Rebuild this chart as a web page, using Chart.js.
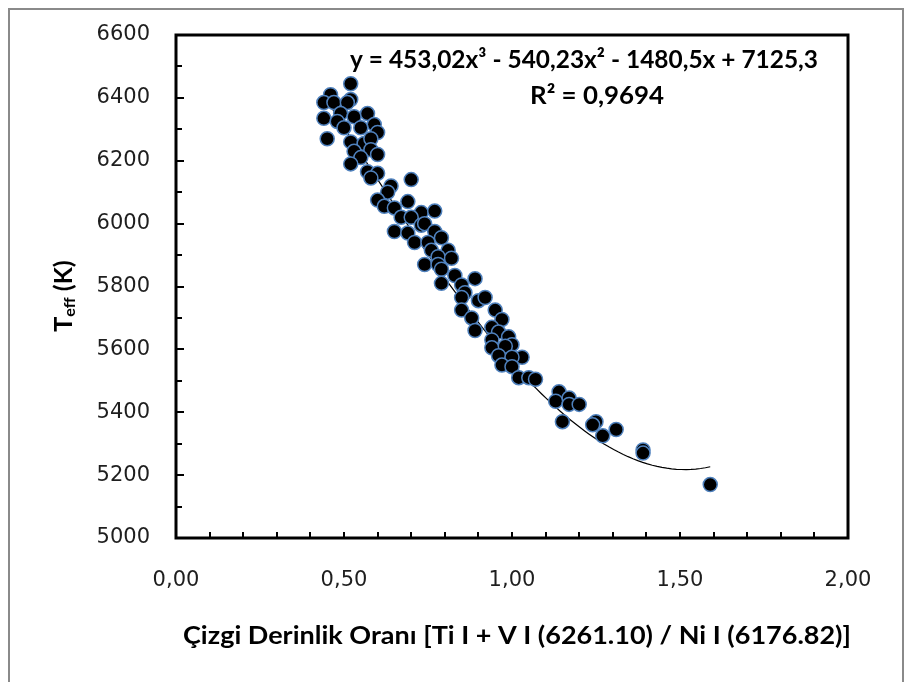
<!DOCTYPE html>
<html>
<head>
<meta charset="utf-8">
<script src="https://cdn.jsdelivr.net/npm/chart.js@4.4.1/dist/chart.umd.min.js"></script>
<style>
    body { margin: 0; background: #fff; }
    canvas { display: block; }
</style>
</head>
<body>
<canvas id="chartTeff" width="910" height="682"></canvas>
<script>
// line depth ratio vs effective temperature
const ratio = [0.52, 0.46, 0.44, 0.47, 0.52, 0.51, 0.49, 0.53, 0.57, 0.44,
    0.48, 0.50, 0.59, 0.55, 0.60, 0.45, 0.52, 0.56, 0.58, 0.53,
    0.58, 0.55, 0.60, 0.52, 0.57, 0.60, 0.58, 0.70, 0.64, 0.63,
    0.60, 0.62, 0.69, 0.65, 0.73, 0.77, 0.67, 0.70, 0.73, 0.74,
    0.65, 0.69, 0.77, 0.79, 0.71, 0.75, 0.76, 0.81, 0.78, 0.82,
    0.74, 0.78, 0.79, 0.83, 0.79, 0.89, 0.85, 0.86, 0.85, 0.90,
    0.92, 0.85, 0.95, 0.88, 0.97, 0.94, 0.89, 0.96, 0.99, 0.94,
    1.00, 0.94, 0.98, 0.96, 1.03, 1.00, 0.97, 1.00, 1.02, 1.05,
    1.07, 1.14, 1.13, 1.17, 1.17, 1.20, 1.15, 1.25, 1.24, 1.27,
    1.31, 1.39, 1.39, 1.59];
const teff = [6445, 6410, 6385, 6385, 6395, 6385, 6350, 6340, 6350, 6335,
    6325, 6305, 6315, 6305, 6290, 6270, 6260, 6255, 6270, 6230,
    6235, 6210, 6220, 6190, 6165, 6160, 6145, 6140, 6120, 6100,
    6075, 6055, 6070, 6050, 6035, 6040, 6020, 6020, 5995, 6000,
    5975, 5970, 5975, 5955, 5940, 5940, 5915, 5915, 5895, 5890,
    5870, 5870, 5855, 5835, 5810, 5825, 5805, 5780, 5765, 5755,
    5765, 5725, 5725, 5700, 5695, 5670, 5660, 5655, 5640, 5630,
    5615, 5605, 5610, 5580, 5575, 5575, 5550, 5545, 5510, 5510,
    5505, 5465, 5435, 5445, 5425, 5425, 5370, 5370, 5360, 5325,
    5345, 5280, 5270, 5170];

// cubic trend: a3, a2, a1, a0
const trendCoef = [453.02, -540.23, -1480.5, 7125.3];
const trendLabel = 'y = 453,02x³ - 540,23x² - 1480,5x + 7125,3';
const r2Label = 'R² = 0,9694';

const xTicks = [0, 0.5, 1, 1.5, 2];
const yTicks = [5000, 5200, 5400, 5600, 5800, 6000, 6200, 6400, 6600];
const xTitle = 'Çizgi Derinlik Oranı [Ti I + V I (6261.10) / Ni I (6176.82)]';

let points = ratio.map((x, i) => ({ x: x, y: teff[i] }));

function trendAt(x) {
    return ((trendCoef[0] * x + trendCoef[1]) * x + trendCoef[2]) * x + trendCoef[3];
}

let trend = [];
let xMin = Math.min(...ratio);
let xMax = Math.max(...ratio);
for (let i = 0; i <= 80; i++) {
    let x = xMin + (xMax - xMin) * i / 80;
    trend.push({ x: x, y: trendAt(x) });
}

function fitText(ctx, text, cx, cy, width) {
    let w = ctx.measureText(text).width;
    ctx.save();
    ctx.translate(cx, cy);
    ctx.scale(width / w, 1);
    ctx.textAlign = 'center';
    ctx.fillText(text, 0, 0);
    ctx.restore();
}

const decorations = {
    id: 'decorations',
    beforeDraw(chart) {
        let ctx = chart.ctx;
        ctx.save();
        ctx.strokeStyle = '#8a8a8a';
        ctx.lineWidth = 2;
        ctx.strokeRect(9, 9, 894, 690);
        ctx.restore();
    },
    afterDraw(chart) {
        let ctx = chart.ctx;
        let area = chart.chartArea;
        let sx = chart.scales.x;
        let sy = chart.scales.y;

        ctx.save();
        ctx.strokeStyle = '#000';
        ctx.lineWidth = 3;
        ctx.strokeRect(area.left, area.top, area.right - area.left, area.bottom - area.top);

        // inward ticks
        ctx.lineWidth = 2;
        ctx.beginPath();
        for (let v = 5000; v <= 6600; v += 100) {
            let py = Math.round(sy.getPixelForValue(v));
            let len = v % 200 == 0 ? 8 : 6;
            ctx.moveTo(area.left, py);
            ctx.lineTo(area.left + len, py);
        }
        for (let i = 0; i <= 20; i++) {
            let px = Math.round(sx.getPixelForValue(i / 10));
            ctx.moveTo(px, area.bottom);
            ctx.lineTo(px, area.bottom - 6);
        }
        ctx.stroke();

        // tick labels
        ctx.fillStyle = '#1e1e1e';
        ctx.font = '21px "DejaVu Sans"';
        ctx.textBaseline = 'middle';
        ctx.textAlign = 'right';
        yTicks.forEach(v => {
            ctx.fillText(String(v), area.left - 26, sy.getPixelForValue(v));
        });
        ctx.textAlign = 'center';
        xTicks.forEach(v => {
            ctx.fillText(v.toFixed(2).replace('.', ','), sx.getPixelForValue(v), 581);
        });

        // axis titles
        ctx.fillStyle = '#000';
        ctx.font = 'bold 25px Lato';
        fitText(ctx, xTitle, 517, 636, 668);

        ctx.save();
        ctx.translate(64, 296);
        ctx.rotate(-Math.PI / 2);
        ctx.textAlign = 'left';
        let partT = 'T', partSub = 'eff', partK = ' (K)';
        ctx.font = 'bold 25px Lato';
        let wT = ctx.measureText(partT).width;
        let wK = ctx.measureText(partK).width;
        ctx.font = 'bold 16px Lato';
        let wSub = ctx.measureText(partSub).width;
        let x0 = -(wT + wSub + wK) / 2;
        ctx.font = 'bold 25px Lato';
        ctx.fillText(partT, x0, 0);
        ctx.font = 'bold 16px Lato';
        ctx.fillText(partSub, x0 + wT, 6);
        ctx.font = 'bold 25px Lato';
        ctx.fillText(partK, x0 + wT + wSub, 0);
        ctx.restore();

        // trend equation
        ctx.font = 'bold 24px Lato';
        fitText(ctx, trendLabel, 584, 60, 468);
        fitText(ctx, r2Label, 597, 96, 134);
        ctx.restore();
    }
};

new Chart(document.getElementById('chartTeff'), {
    type: 'scatter',
    data: {
        datasets: [{
            data: points,
            backgroundColor: '#000',
            borderColor: '#4f81bd',
            borderWidth: 1.5,
            pointRadius: 7,
            pointHoverRadius: 7,
        }, {
            data: trend,
            showLine: true,
            borderColor: '#000',
            borderWidth: 1.2,
            pointRadius: 0,
            tension: 0,
        }]
    },
    options: {
        responsive: false,
        devicePixelRatio: 1,
        animation: false,
        layout: {
            padding: { top: 35, right: 62, left: 0, bottom: 0 }
        },
        plugins: {
            legend: { display: false },
            tooltip: { enabled: false },
        },
        scales: {
            x: {
                type: 'linear',
                min: 0,
                max: 2,
                grid: { display: false },
                border: { display: false },
                ticks: { display: false },
                afterFit: scale => { scale.height = 144; },
            },
            y: {
                type: 'linear',
                min: 5000,
                max: 6600,
                grid: { display: false },
                border: { display: false },
                ticks: { display: false },
                afterFit: scale => { scale.width = 176; },
            }
        }
    },
    plugins: [decorations],
});
</script>
</body>
</html>
